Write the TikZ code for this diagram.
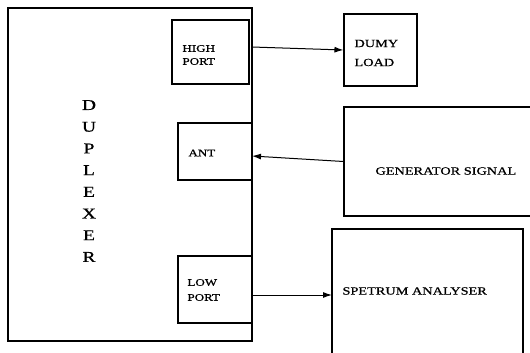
\documentclass[tikz,border=0pt]{standalone}
\usepackage{fontspec}
\setmainfont{Liberation Serif}
\newfontfamily\blkfont[FakeStretch=1.3,FakeBold=0.8]{Liberation Serif}
\usetikzlibrary{arrows.meta}
\tikzset{
  blk/.style={draw,line width=1.1pt,inner sep=0pt},
  txt/.style={anchor=west,align=left,inner sep=0pt,font=\blkfont\fontsize{10}{13}\selectfont},
}
\begin{document}
\begin{tikzpicture}[x=1pt,y=-1pt,>={Latex[length=9pt,width=6pt]},line width=1pt]
\useasboundingbox (0,0) rectangle (530,353);
% duplexer and its ports
\node[blk,minimum width=244pt,minimum height=333pt] at (130,174.5) (dup) {};
\node[blk,minimum width=77pt,minimum height=64pt] at (210.5,52) (high) {};
\node[blk,minimum width=74pt,minimum height=57pt] at (215,151.5) (ant) {};
\node[blk,minimum width=74pt,minimum height=67pt] at (215,289.5) (low) {};
\node[align=center,inner sep=0pt,font=\blkfont\fontsize{15}{21.7}\selectfont] at (89,181) (duplbl) {D\\U\\P\\L\\E\\X\\E\\R};
\node[txt] at (182,55) (highlbl) {HIGH\\PORT};
\node[txt] at (188,153) (antlbl) {ANT};
\node[txt,font=\blkfont\fontsize{10}{15}\selectfont] at (187,290) (lowlbl) {LOW\\PORT};
% outside units
\node[blk,minimum width=73pt,minimum height=72pt] at (380.5,50) (dumy) {};
\node[blk,minimum width=200pt,minimum height=109pt] at (444,161.5) (gen) {};
\node[blk,minimum width=191pt,minimum height=140pt] at (427.5,299) (spec) {};
\node[txt,font=\blkfont\fontsize{11}{19}\selectfont] at (354,53) (dumylbl) {DUMY\\LOAD};
\node[txt,font=\blkfont\fontsize{11}{13}\selectfont] at (375,171) (genlbl) {GENERATOR SIGNAL};
\node[txt,font=\blkfont\fontsize{11}{13}\selectfont] at (342,291) (speclbl) {SPETRUM ANALYSER};
% connections
\coordinate (hpout) at (252,47);
\coordinate (antin) at (252,156);
\coordinate (lpout) at (252,295);
\coordinate (specin) at (332,295);
\draw[->] (hpout) -- (dumy.west);
\draw[->] (gen.west) -- (antin);
\draw[->] (lpout) -- (specin);
\end{tikzpicture}
\end{document}
